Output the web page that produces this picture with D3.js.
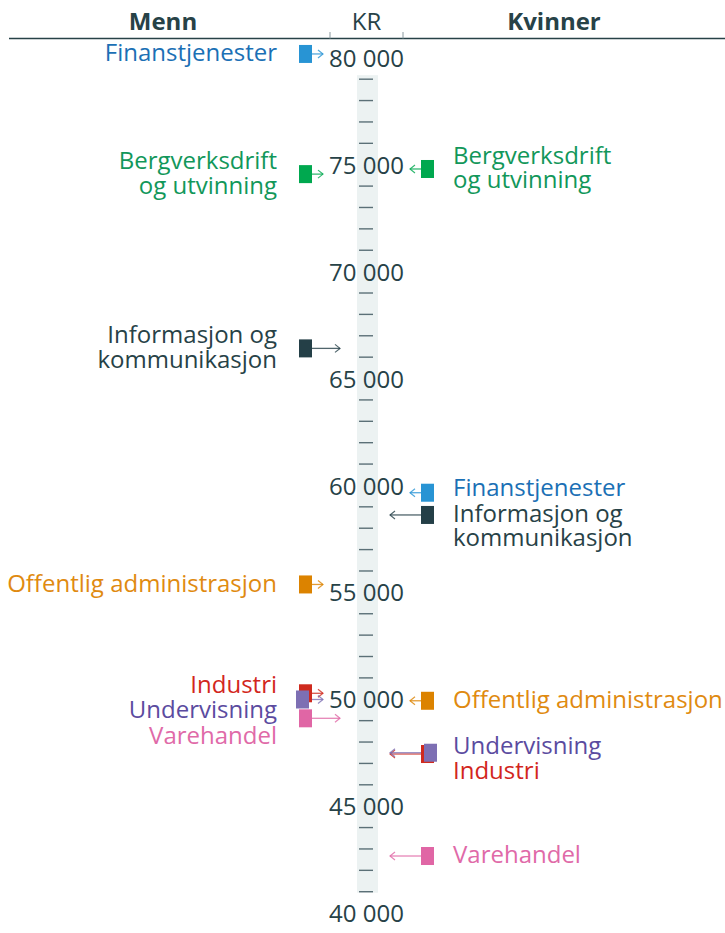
<!DOCTYPE html>
<html>
<head>
<meta charset="utf-8">
<script src="https://cdn.jsdelivr.net/npm/d3@7"></script>
<style>
  body { margin: 0; background: #fff; }
  svg { display: block; font-family: "Open Sans", sans-serif; }
</style>
</head>
<body>
<div id="chart"></div>
<script>
// monthly wage (kr) per industry, men and women
var industries = ["Finanstjenester", "Bergverksdrift og utvinning", "Informasjon og kommunikasjon",
                  "Offentlig administrasjon", "Industri", "Undervisning", "Varehandel"];
var labelLines = [["Finanstjenester"], ["Bergverksdrift", "og utvinning"], ["Informasjon og", "kommunikasjon"],
                  ["Offentlig administrasjon"], ["Industri"], ["Undervisning"], ["Varehandel"]];
var menValues   = [80180, 74560, 66410, 55370, 50280, 49990, 49110];
var womenValues = [59660, 74800, 58620, 49930, 47440, 47500, 42670];
var squareColors = ["#2894d4", "#00a84f", "#243f47", "#dc8300", "#cf2a1e", "#7d6fb3", "#e066a5"];
var textColors   = ["#1b70b5", "#12975a", "#274247", "#e08a10", "#d2261c", "#5b4b9f", "#e06aa8"];
var majorTicks = [40000, 45000, 50000, 55000, 60000, 65000, 70000, 75000, 80000];
var headers = {men: "Menn", unit: "KR", women: "Kvinner"};

var width = 725, height = 933;
var axisX = 367.5;
var dark = "#274247";
var lh = 24.5, gap = 1;

var y = d3.scaleLinear().domain([40000, 80000]).range([913.1, 57.8]);
var fmt = d3.formatLocale({decimal: ",", thousands: " ", grouping: [3], currency: ["", ""]}).format(",d");

var svg = d3.select("#chart").append("svg")
    .attr("width", width)
    .attr("height", height);

// header
svg.append("text").attr("x", 163).attr("y", 30).attr("text-anchor", "middle")
    .attr("font-size", 24).attr("font-weight", 700).attr("fill", dark).text(headers.men);
svg.append("text").attr("x", 554).attr("y", 30).attr("text-anchor", "middle")
    .attr("font-size", 24).attr("font-weight", 700).attr("fill", dark).text(headers.women);
svg.append("text").attr("x", axisX - 1).attr("y", 30).attr("text-anchor", "middle")
    .attr("font-size", 24).attr("fill", dark).text(headers.unit);
svg.append("line").attr("x1", 9).attr("x2", width).attr("y1", 38.5).attr("y2", 38.5)
    .attr("stroke", dark).attr("stroke-width", 1.3);
[330, 403].forEach(function (x) {
    svg.append("line").attr("x1", x).attr("x2", x).attr("y1", 32).attr("y2", 38.5)
        .attr("stroke", "#8a9aa0").attr("stroke-width", 1);
});

// thermometer band
svg.append("rect")
    .attr("x", axisX - 10.5).attr("width", 21)
    .attr("y", y(79000) - 4).attr("height", y(41000) - y(79000) + 5)
    .attr("fill", "#ecf2f2");

var minor = d3.range(41000, 80000, 1000).filter(function (v) { return v % 5000 !== 0; });
svg.selectAll(".minor").data(minor).enter().append("line")
    .attr("class", "minor")
    .attr("x1", axisX - 8.5).attr("x2", axisX + 5.5)
    .attr("y1", function (d) { return y(d); }).attr("y2", function (d) { return y(d); })
    .attr("stroke", "#5b7077").attr("stroke-width", 1.4);

svg.selectAll(".major").data(majorTicks).enter().append("text")
    .attr("class", "major")
    .attr("x", axisX - 1).attr("y", function (d) { return y(d); })
    .attr("dy", "0.38em")
    .attr("text-anchor", "middle")
    .attr("font-size", 24)
    .attr("fill", dark)
    .text(function (d) { return fmt(d); });

function nearLabel(v) {
    var r = v % 5000;
    return Math.min(r, 5000 - r) < 700;
}

// greedy downward push, then pull each cluster back up by half its mean shift
function placeLabels(items) {
    var sorted = items.slice().sort(function (a, b) { return a.y - b.y; });
    var clusters = [], cur = null, prevBottom = -Infinity;
    sorted.forEach(function (d) {
        d.h = d.lines.length * lh;
        d.top = d.y - d.h / 2;
        if (d.top < prevBottom + gap) {
            d.top = prevBottom + gap;
            cur.push(d);
        } else {
            cur = [d];
            clusters.push(cur);
        }
        prevBottom = d.top + d.h;
    });
    clusters.forEach(function (c) {
        if (c.length < 2) return;
        var m = d3.mean(c, function (d) { return d.top + d.h / 2 - d.y; });
        c.forEach(function (d) { d.top -= m / 2; });
    });
}

function drawSide(values, side) {
    var dir = side === "men" ? 1 : -1;
    var sqW = 13, sqH = 18;
    var sqX = side === "men" ? 299 : 421;
    var items = values.map(function (v, i) {
        return {v: v, y: y(v), i: i, lines: labelLines[i], nudge: 0};
    });
    // nudge squares that overlap an earlier one
    items.forEach(function (d, k) {
        for (var j = 0; j < k; j++) {
            if (Math.abs(items[j].y - d.y) < sqH) d.nudge = -3 * dir;
        }
    });
    placeLabels(items);

    function tipX(d) {
        return axisX - dir * (nearLabel(d.v) ? (side === "men" ? 44.5 : 42.5) : (side === "men" ? 27.5 : 22.5));
    }

    var g = svg.append("g").attr("class", side);
    var mk = g.selectAll("g.mark").data(items).enter().append("g").attr("class", "mark");

    mk.append("line")
        .attr("x1", function (d) { return side === "men" ? sqX + sqW : sqX; })
        .attr("x2", tipX)
        .attr("y1", function (d) { return d.y; }).attr("y2", function (d) { return d.y; })
        .attr("stroke", function (d) { return squareColors[d.i]; })
        .attr("stroke-opacity", 0.8)
        .attr("stroke-width", 1.3);

    mk.append("path")
        .attr("d", function (d) {
            var tip = tipX(d);
            return "M" + (tip - dir * 5) + "," + (d.y - 4) + "L" + tip + "," + d.y + "L" + (tip - dir * 5) + "," + (d.y + 4);
        })
        .attr("fill", "none")
        .attr("stroke", function (d) { return squareColors[d.i]; })
        .attr("stroke-opacity", 0.8)
        .attr("stroke-width", 1.2);

    mk.append("rect")
        .attr("x", function (d) { return sqX + d.nudge; })
        .attr("y", function (d) { return d.y - sqH / 2; })
        .attr("width", sqW).attr("height", sqH)
        .attr("fill", function (d) { return squareColors[d.i]; });

    var lab = g.selectAll("text.lab").data(items).enter().append("text")
        .attr("class", "lab")
        .attr("text-anchor", side === "men" ? "end" : "start")
        .attr("font-size", 24)
        .attr("fill", function (d) { return textColors[d.i]; });
    lab.selectAll("tspan").data(function (d) {
        return d.lines.map(function (t, k) { return {t: t, y: d.top + k * lh + lh / 2}; });
    }).enter().append("tspan")
        .attr("x", side === "men" ? 277 : 453)
        .attr("y", function (d) { return d.y; })
        .attr("dy", "0.3em")
        .text(function (d) { return d.t; });
}

drawSide(menValues, "men");
drawSide(womenValues, "women");
</script>
</body>
</html>
